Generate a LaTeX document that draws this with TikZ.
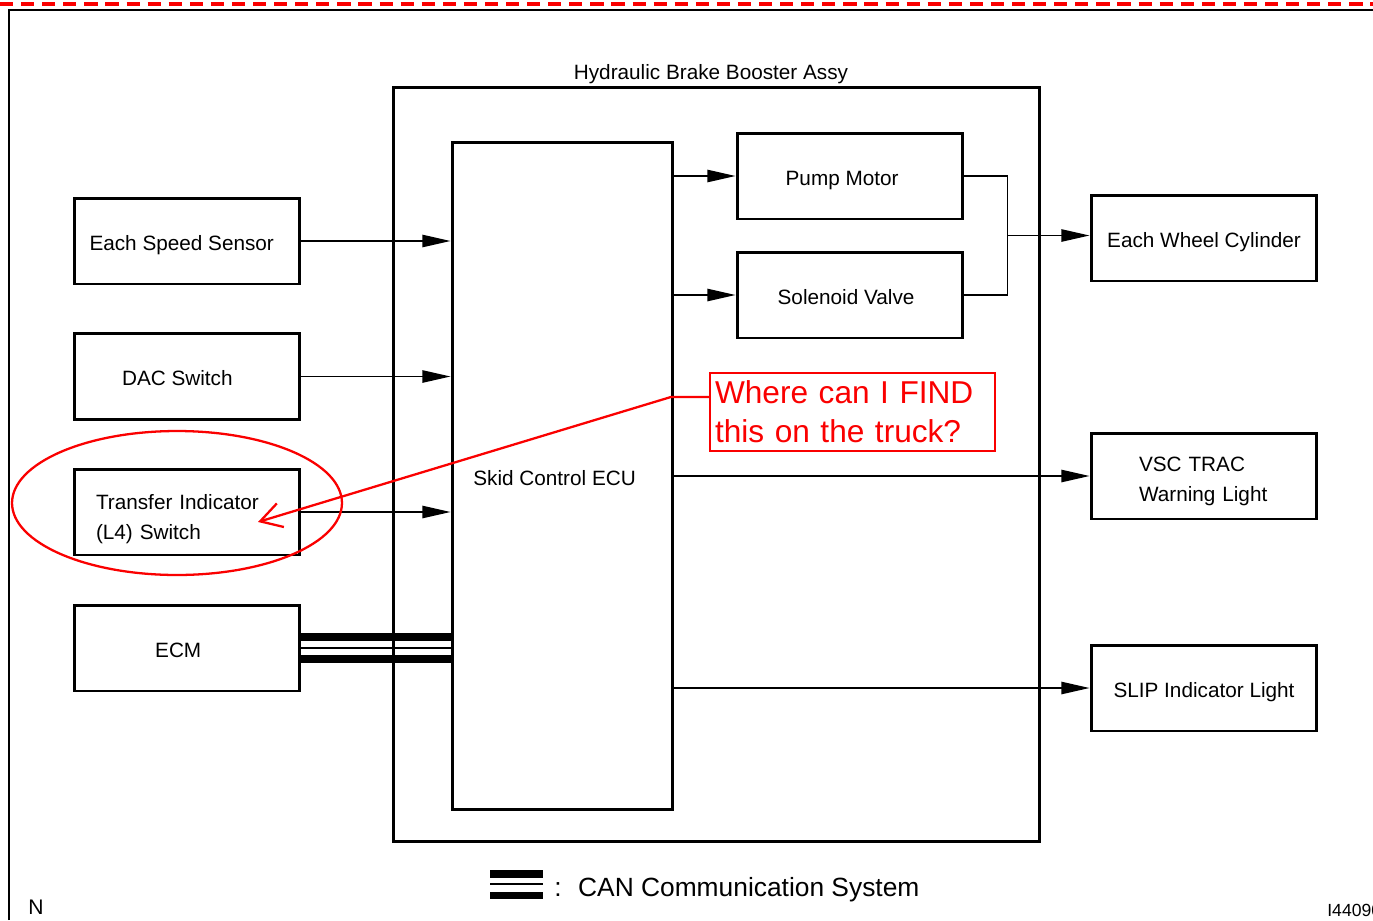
\documentclass[tikz,border=0pt]{standalone}
\usepackage{fontspec}
\setmainfont{Liberation Sans}
\usetikzlibrary{positioning, calc, arrows.meta, shapes.geometric}
\definecolor{markred}{RGB}{250,0,0}
\newcommand{\nudge}[1]{\hspace*{-#1}}

\tikzset{
  blk/.style={draw, line width=1.7pt, minimum width=4.52cm, minimum height=1.72cm, inner sep=0pt,
              text height=11pt, text depth=0.2pt},
  sig/.style={line width=0.9pt, -{Triangle[length=16pt, width=7pt]}},
  wire/.style={line width=0.9pt},
  canbar/.style={line width=4.4pt},
  canmid/.style={line width=1.1pt},
  redline/.style={draw=markred, line width=1.3pt},
}

\begin{document}
\begin{tikzpicture}[x=0.02cm, y=-0.02cm, font=\fontsize{11.8}{17}\selectfont]
  \useasboundingbox (0,0) rectangle (1373,920);
  % sheet edge
  \draw[markred, line width=2.8pt, dash pattern=on 7.5pt off 4.5pt] (0,4) -- (1373,4);
  \draw[line width=1.4pt] (9,920) -- (9,10) -- (1373,10);

  % booster assy and its parts
  \node[blk, minimum width=12.94cm, minimum height=15.1cm] (assy) at (716.5,464.5) {};
  \node (assylbl) at (711,74) {Hydraulic Brake Booster Assy};
  \node[blk, minimum width=4.42cm, minimum height=13.36cm] (ecu) at (562.5,476) {\nudge{9pt}Skid Control ECU};
  \node[blk] (pump) at (850,176) {\nudge{9pt}Pump Motor};
  \node[blk] (valve) at (850,295) {\nudge{4.5pt}Solenoid Valve};

  % inputs
  \node[blk] (speed) at (187,241) {\nudge{6pt}Each Speed Sensor};
  \node[blk] (dac) at (187,376.5) {\nudge{11pt}DAC Switch};
  \node[blk, align=left, text width=3.64cm, inner xsep=0.44cm, text height=9pt, text depth=11.8pt]
    (xfer) at (187,512) {Transfer Indicator\\(L4) Switch};
  \node[blk] (ecm) at (187,648) {\nudge{10pt}ECM};

  % outputs
  \node[blk] (wheel) at (1204,238) {Each Wheel Cylinder};
  \node[blk, align=left, text width=2.6cm, inner xsep=0.96cm, text height=9pt, text depth=14.1pt]
    (vsc) at (1204,476) {VSC TRAC\\Warning Light};
  \node[blk] (slip) at (1204,688) {SLIP Indicator Light};

  \draw[sig] (speed.east) -- (speed.east -| ecu.west);
  \draw[sig] (dac.east) -- (dac.east -| ecu.west);
  \draw[sig] (xfer.east) -- (xfer.east -| ecu.west);
  % CAN bus
  \draw[canbar] ([yshift=0.22cm]ecm.east) -- ([yshift=0.22cm]ecm.east -| ecu.west);
  \draw[canmid] (ecm.east) -- (ecm.east -| ecu.west);
  \draw[canbar] ([yshift=-0.22cm]ecm.east) -- ([yshift=-0.22cm]ecm.east -| ecu.west);

  \draw[sig] (pump.west -| ecu.east) -- (pump.west);
  \draw[sig] (valve.west -| ecu.east) -- (valve.west);
  \draw[wire] (pump.east) -- ++(43,0) coordinate (jt) |- (valve.east);
  \coordinate (jn) at ($(jt)!0.5!(jt |- valve.east)$);
  \draw[sig] (jn) -- (jn -| wheel.west);
  \draw[sig] (vsc.west -| ecu.east) -- (vsc.west);
  \draw[sig] (slip.west -| ecu.east) -- (slip.west);

  % legend
  \coordinate (leg) at (490,884);
  \draw[canbar] ([yshift=0.2cm]leg) -- ++(53,0);
  \draw[canmid] (leg) -- ++(53,0);
  \draw[canbar] ([yshift=-0.23cm]leg) -- ++(53,0);
  \node[anchor=west, inner sep=0pt, font=\fontsize{15}{18}\selectfont] (legtxt) at (554,890)
    {:\hspace{0.33cm}CAN Communication System};
  \node[font=\fontsize{12}{14}\selectfont] (sheetN) at (36,907) {N};
  \node[anchor=west, inner sep=0pt, font=\fontsize{10}{12}\selectfont] (sheetno) at (1327,910) {I44090};

  % the question
  \node[redline, text=markred, font=\fontsize{18}{22}\selectfont, align=left, text width=5.5cm,
        inner xsep=0.1cm, minimum height=1.56cm] (ask) at (852.5,412)
    {Where can I FIND\\this on the truck?};
  \node[redline, ellipse, minimum width=6.6cm, minimum height=2.88cm] (ring) at (177,503) {};
  \coordinate (tip) at (258,522);
  \draw[markred, line width=1.3pt, -{Straight Barb[length=12pt, width=14pt]}]
    ([yshift=0.3cm]ask.west) -- ++(-38,0) -- (tip);
\end{tikzpicture}
\end{document}
